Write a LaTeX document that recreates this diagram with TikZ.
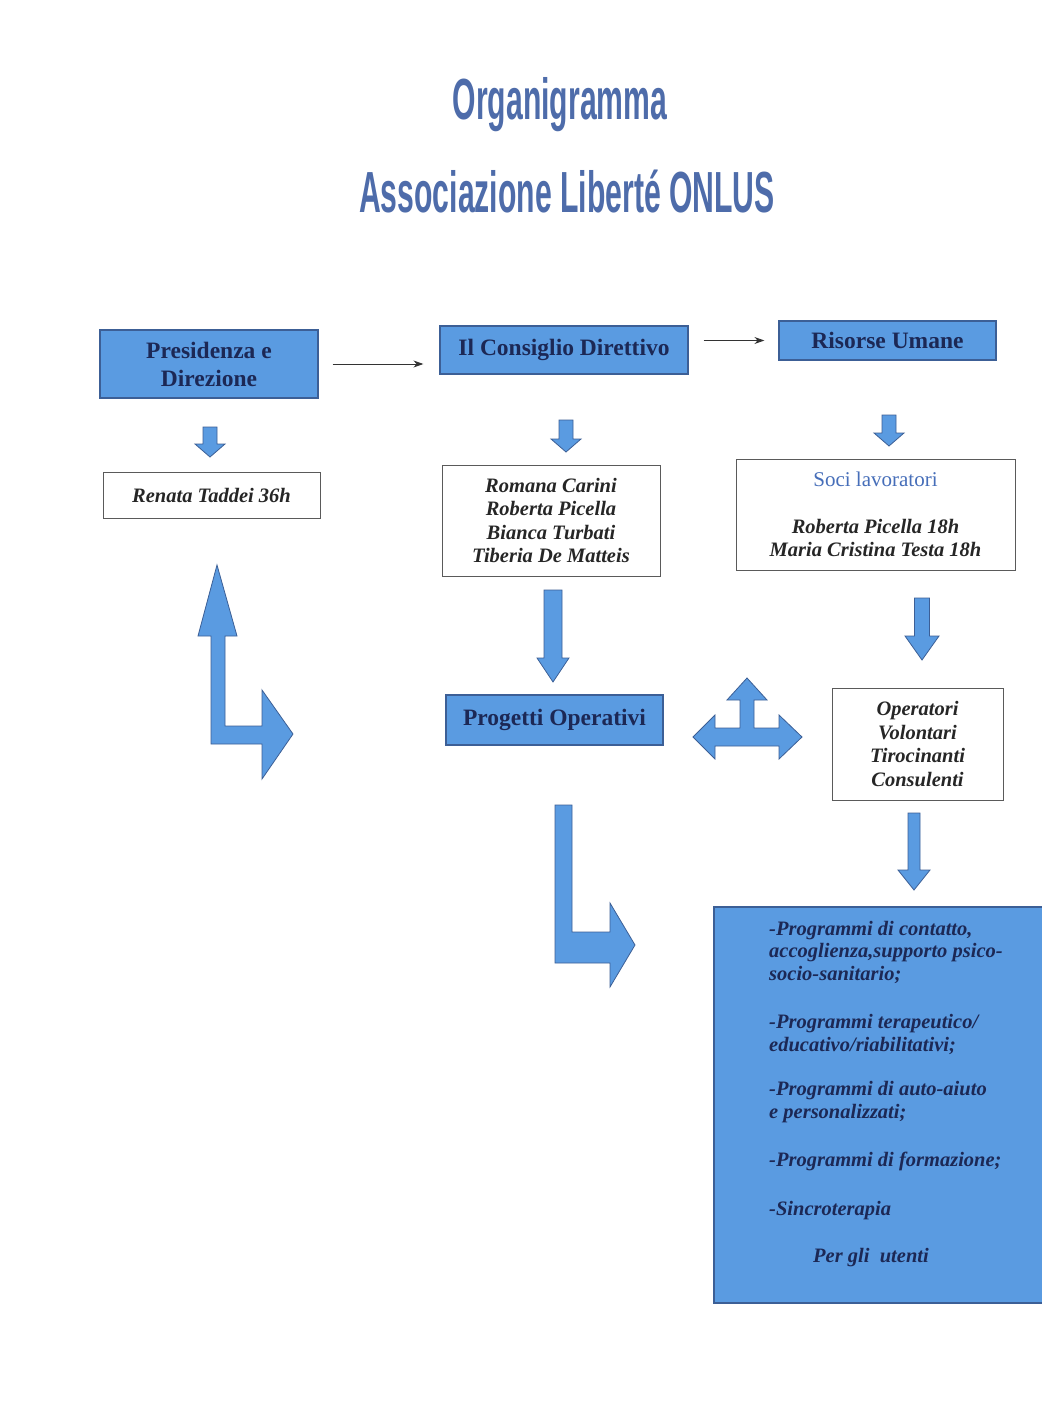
\documentclass[tikz,border=0pt]{standalone}
\usepackage{fontspec}
\setmainfont{Liberation Serif}
\newfontfamily\titlefont[FakeStretch=0.52]{Liberation Sans}
\usetikzlibrary{arrows.meta}
\definecolor{boxblue}{RGB}{90,155,225}
\definecolor{edgeblue}{RGB}{60,95,150}
\definecolor{navytext}{RGB}{28,40,85}
\definecolor{titleblue}{RGB}{78,108,170}
\definecolor{socblue}{RGB}{70,110,185}
\definecolor{boxgray}{RGB}{90,90,90}
\newcommand{\bdarrow}[6]{% x, top y, tip y, shaft half, head half, head length
  \filldraw[blockarr] (#1-#4,#2) -- (#1+#4,#2) -- (#1+#4,#3-#6) -- (#1+#5,#3-#6)
    -- (#1,#3) -- (#1-#5,#3-#6) -- (#1-#4,#3-#6) -- cycle;}
\begin{document}
\begin{tikzpicture}[x=1pt,y=-1pt,
  bluebox/.style={draw=edgeblue, line width=1.2pt, fill=boxblue, text=navytext,
    font=\fontsize{23.5}{28}\selectfont\bfseries, align=center, inner sep=0pt},
  whitebox/.style={draw=boxgray, line width=1pt, fill=white, text=black!85,
    font=\fontsize{20.5}{23.4}\selectfont\bfseries\itshape, align=center, inner sep=0pt},
  blockarr/.style={fill=boxblue, draw=edgeblue, line width=0.8pt, line join=miter},
  thinarr/.style={draw=black!80, line width=1pt, -{Stealth[length=10pt,width=7pt]}},
  titletext/.style={text=titleblue, font=\titlefont\bfseries\fontsize{58}{60}\selectfont, inner sep=0pt}
  ]
\useasboundingbox[fill=white] (0,0) rectangle (1041,1423);

% title
\node[titletext] (t1) at (560,105) {Organigramma};
\node[titletext] (t2) at (567,192) {Associazione Libert\'e ONLUS};

% top row
\node[bluebox, minimum width=218pt, minimum height=68pt] (pres) at (209,364) {Presidenza e\\Direzione};
\node[bluebox, minimum width=248pt, minimum height=48pt] (cons) at (564,350) {Il Consiglio Direttivo};
\node[bluebox, minimum width=217pt, minimum height=39pt] (ris) at (887.5,340.5) {Risorse Umane};

\draw[thinarr, shorten <=14pt, shorten >=16pt] (pres.east) -- (pres.east -| cons.west);
\draw[thinarr, shorten <=15pt, shorten >=14pt] (cons.east |- ris.west) -- (ris.west);

% small down arrows
\bdarrow{210}{427}{457}{7}{15}{13}
\bdarrow{566}{420}{452}{7}{15}{13}
\bdarrow{889}{415}{446}{7}{15}{13}

% second row
\node[whitebox, minimum width=217pt, minimum height=46pt] (ren) at (211.5,495) {Renata Taddei 36h};
\node[whitebox, minimum width=218pt, minimum height=111pt] (names) at (551,520.5)
  {Romana Carini\\Roberta Picella\\Bianca Turbati\\Tiberia De Matteis};
\node[whitebox, minimum width=279pt, minimum height=111pt] (soci) at (875.5,514.5)
  {{\color{socblue}\mdseries\upshape\fontsize{21}{23.4}\selectfont Soci lavoratori}\\ \\Roberta Picella 18h\\Maria Cristina Testa 18h};

% left L arrow (up and right)
\filldraw[blockarr] (217,565) -- (237,636) -- (225,636) -- (225,726) -- (262,726) -- (262,690)
  -- (293,734) -- (262,779) -- (262,744) -- (211,744) -- (211,636) -- (198,636) -- cycle;

% down arrows middle
\bdarrow{553}{590}{682}{9}{16}{24}
\bdarrow{922}{598}{660}{7.5}{17}{24}

\node[bluebox, minimum width=217pt, minimum height=50pt] (prog) at (554.5,720) {Progetti Operativi};

% three-way arrow
\filldraw[blockarr] (693,737) -- (715,715) -- (715,728) -- (740,728) -- (740,700) -- (727,700)
  -- (747,678) -- (767,700) -- (754,700) -- (754,728) -- (779,728) -- (779,715) -- (802,737)
  -- (779,759) -- (779,746) -- (715,746) -- (715,759) -- cycle;

\node[whitebox, minimum width=171pt, minimum height=112pt] (oper) at (917.5,744)
  {Operatori\\Volontari\\Tirocinanti\\Consulenti};

\bdarrow{914}{813}{890}{6}{16}{20}

% lower L arrow
\filldraw[blockarr] (555,805) -- (572,805) -- (572,932) -- (610,932) -- (610,903) -- (635,945)
  -- (610,987) -- (610,963) -- (555,963) -- cycle;

% big box
\filldraw[fill=boxblue, draw=edgeblue, line width=1.2pt] (714,907) rectangle (1050,1303);
\node[anchor=north west, inner sep=0pt, align=left, text=navytext,
  font=\fontsize{20.5}{22.5}\selectfont\bfseries\itshape] (prgs) at (769,921)
  {-Programmi di contatto,\\accoglienza,supporto psico-\\socio-sanitario;\\[26pt]
   -Programmi terapeutico/\\educativo/riabilitativi;\\[22pt]
   -Programmi di auto-aiuto\\e personalizzati;\\[26pt]
   -Programmi di formazione;\\[26pt]
   -Sincroterapia\\[25pt]
   \hspace*{44pt}Per gli\ \ utenti};
\end{tikzpicture}
\end{document}
